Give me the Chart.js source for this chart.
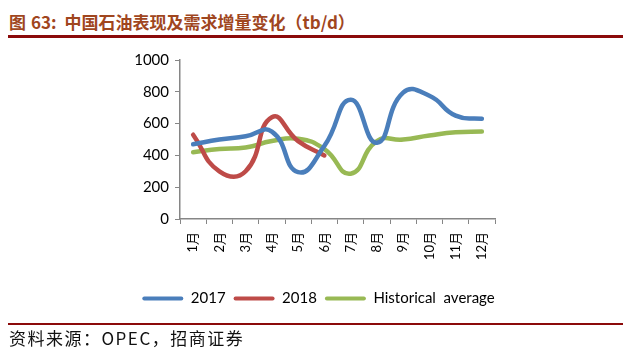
<!DOCTYPE html>
<html>
<head>
<meta charset="utf-8">
<script src="https://cdn.jsdelivr.net/npm/chart.js@4"></script>
<style>
  body { margin: 0; width: 637px; height: 354px; background: #fff; position: relative; overflow: hidden; }
  #title { position: absolute; left: 9px; top: 9px; font: bold 17px "Noto Sans CJK SC", sans-serif; color: #A0461E; white-space: nowrap; }
  #title .num { margin-left: 5px; margin-right: 8px; }
  #topline { position: absolute; left: 8px; top: 35px; width: 615px; height: 3px; background: #8B0A0A; }
  #botline { position: absolute; left: 8px; top: 323px; width: 615px; height: 2px; background: #8B0A0A; }
  #source { position: absolute; left: 9px; top: 325px; font: 17px "Noto Sans CJK SC", sans-serif; letter-spacing: 1.5px; color: #111; white-space: nowrap; }
  #wrap { position: absolute; left: 0; top: 0; width: 637px; height: 354px; }
</style>
</head>
<body>
<div id="title">图<span class="num">63:</span>中国石油表现及需求增量变化（tb/d）</div>
<div id="topline"></div>
<div id="wrap"><canvas id="c"></canvas></div>
<div id="botline"></div>
<div id="source">资料来源：OPEC，招商证券</div>
<script>
// 月份とデータ
const months = ['1月', '2月', '3月', '4月', '5月', '6月', '7月', '8月', '9月', '10月', '11月', '12月'];
const data2017 = [470, 500, 520, 550, 295, 460, 750, 480, 795, 775, 650, 630];
const data2018 = [530, 300, 300, 640, 490, 400];
const dataHist = [420, 440, 450, 490, 505, 440, 285, 490, 500, 525, 545, 550];
const yTicks = [0, 200, 400, 600, 800, 1000];

const axisColor = '#868686';
const tickFont = { family: 'Lato, "Noto Sans CJK SC", sans-serif', size: 15 };

const ctx = document.getElementById('c').getContext('2d');
new Chart(ctx, {
    type: 'line',
    data: {
        labels: months,
        datasets: [
            { label: '2017', data: data2017, borderColor: '#4A7EBB', backgroundColor: '#4A7EBB' },
            { label: '2018', data: data2018, borderColor: '#BE4B48', backgroundColor: '#BE4B48' },
            { label: 'Historical  average', data: dataHist, borderColor: '#98B954', backgroundColor: '#98B954' }
        ]
    },
    options: {
        responsive: true,
        maintainAspectRatio: false,
        animation: false,
        layout: { padding: { left: 5, right: 5, top: 60, bottom: 38 } },
        elements: {
            line: { borderWidth: 4.5, tension: 0.5, borderCapStyle: 'round', fill: false },
            point: { radius: 0, hoverRadius: 0 }
        },
        scales: {
            x: {
                offset: true,
                grid: { display: true, drawOnChartArea: false, drawTicks: true, tickLength: 5, offset: true, color: axisColor },
                border: { color: axisColor, width: 1.5 },
                ticks: { color: '#000', font: { ...tickFont, size: 13 }, maxRotation: 90, minRotation: 90, padding: 8 },
                afterFit: s => { s.height = 64; }
            },
            y: {
                min: 0, max: 1000,
                afterBuildTicks: s => { s.ticks = yTicks.map(v => ({ value: v })); },
                grid: { display: true, drawOnChartArea: false, drawTicks: true, tickLength: 5, color: axisColor },
                border: { color: axisColor, width: 1.5 },
                ticks: { color: '#000', font: tickFont, padding: 6, callback: v => String(v) },
                afterFit: s => { s.width = 175; }
            },
            // 右側の余白用ダミー軸
            yRight: {
                position: 'right',
                display: true,
                grid: { display: false },
                border: { display: false },
                ticks: { display: false },
                afterFit: s => { s.width = 137; }
            }
        },
        plugins: {
            legend: {
                position: 'bottom',
                labels: {
                    boxWidth: 41, boxHeight: 4, color: '#000', font: tickFont, padding: 8,
                    useBorderRadius: true, borderRadius: 2,
                    generateLabels: chart => Chart.defaults.plugins.legend.labels.generateLabels(chart)
                        .map(item => ({ ...item, lineWidth: 0 }))
                }
            },
            tooltip: { enabled: false }
        }
    }
});
</script>
</body>
</html>
